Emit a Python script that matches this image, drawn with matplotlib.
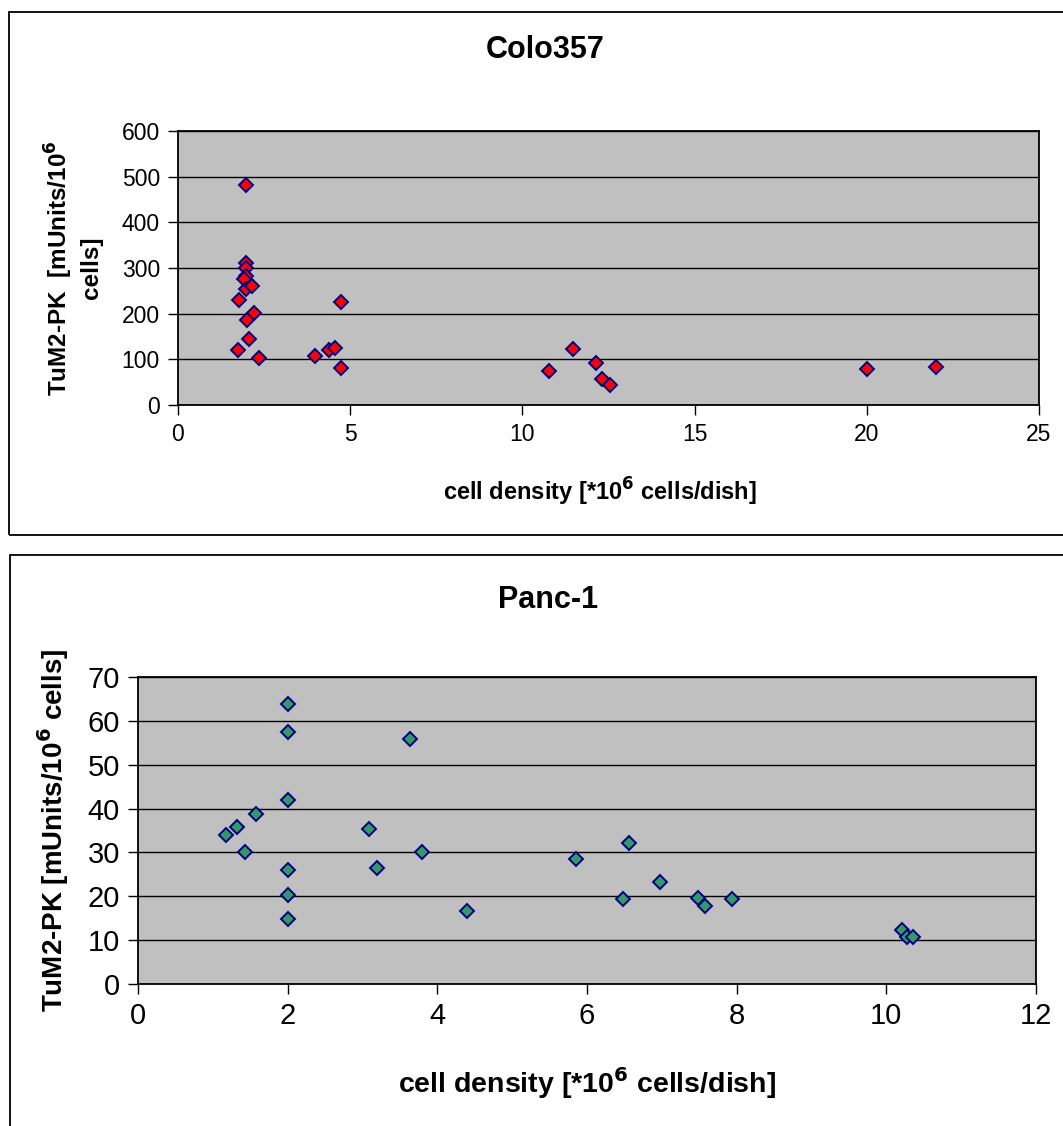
import matplotlib
matplotlib.use("Agg")
import matplotlib.pyplot as plt
from matplotlib.patches import Rectangle

W, H = 1063, 1126

# Colo357: cell density [*10^6 cells/dish] vs TuM2-PK [mUnits/10^6 cells]
colo_x = [1.97, 1.97, 1.97, 1.97, 1.91, 1.97, 2.14, 1.78, 2.20, 2.00,
          2.07, 1.73, 2.35, 3.98, 4.37, 4.55, 4.72, 4.72,
          10.78, 11.46, 12.13, 12.32, 12.54, 20.0, 22.02]
colo_y = [481, 311, 299, 282, 277, 255, 260, 230, 202, 187,
          145, 120, 102, 107, 120, 125, 226, 82,
          75, 122, 92, 56, 43, 79, 84]

# Panc-1
panc_x = [2.0, 2.0, 3.64, 2.0, 1.58, 1.32, 1.17, 1.43, 3.09, 3.80,
          2.0, 3.19, 2.0, 2.0, 4.39,
          5.85, 6.56, 6.98, 6.48, 7.48, 7.58, 7.94, 10.21, 10.28, 10.35]
panc_y = [63.8, 57.5, 55.8, 42.0, 38.8, 35.7, 33.9, 30.0, 35.3, 30.0,
          25.9, 26.4, 20.2, 14.9, 16.7,
          28.5, 32.1, 23.2, 19.3, 19.7, 17.8, 19.3, 12.3, 10.7, 10.8]

colo_xticks = [0, 5, 10, 15, 20, 25]
colo_yticks = [0, 100, 200, 300, 400, 500, 600]
panc_xticks = [0, 2, 4, 6, 8, 10, 12]
panc_yticks = [0, 10, 20, 30, 40, 50, 60, 70]

plt.rcParams["font.family"] = ["Liberation Sans", "DejaVu Sans"]

fig = plt.figure(figsize=(W / 100, H / 100), dpi=100)


def fx(px):
    return px / W


def fy(py):
    return 1 - py / H


def add_px_axes(left, top, right, bottom):
    return fig.add_axes([fx(left), fy(bottom), (right - left) / W, (bottom - top) / H])


# chart-area frames (run past the right/bottom edge like the source)
fig.patches.append(Rectangle((fx(9), fy(535)), 1.2, (535 - 12) / H,
                             transform=fig.transFigure, fill=False,
                             edgecolor="black", linewidth=1.3))
fig.patches.append(Rectangle((fx(10), fy(1200)), 1.2, (1200 - 555) / H,
                             transform=fig.transFigure, fill=False,
                             edgecolor="black", linewidth=1.3))


def style_axes(ax, xticks, yticks, labelsize):
    ax.set_facecolor("#C0C0C0")
    ax.set_xlim(xticks[0], xticks[-1])
    ax.set_ylim(yticks[0], yticks[-1])
    ax.set_xticks(xticks)
    ax.set_yticks(yticks)
    ax.yaxis.grid(True, color="black", linewidth=1.0)
    ax.set_axisbelow(True)
    for side in ["left", "bottom", "top", "right"]:
        ax.spines[side].set_color("black")
        ax.spines[side].set_linewidth(1.3)
    ax.tick_params(direction="out", length=7, width=1.0, labelsize=labelsize,
                   top=False, right=False, pad=6)


# --- Colo357 ---
ax1 = add_px_axes(178, 131, 1039, 405)
style_axes(ax1, colo_xticks, colo_yticks, 16.5)
ax1.plot(colo_x, colo_y, linestyle="none", marker="D", markersize=7,
         markerfacecolor="#FF0000", markeredgecolor="#000080",
         markeredgewidth=1.4, zorder=3, clip_on=False)
fig.text(fx(545), fy(50), "Colo357", ha="center", va="center",
         fontsize=22, fontweight="bold")
fig.text(fx(600), fy(492), r"cell density [*10$^{\mathbf{6}}$ cells/dish]",
         ha="center", va="center", fontsize=17, fontweight="bold")
fig.text(fx(73), fy(268), "TuM2-PK  [mUnits/10$^{\\mathbf{6}}$\ncells]",
         ha="center", va="center", rotation=90, fontsize=17.5,
         fontweight="bold", linespacing=1.25)

# --- Panc-1 ---
ax2 = add_px_axes(138, 677, 1036, 984)
style_axes(ax2, panc_xticks, panc_yticks, 21)
ax2.plot(panc_x, panc_y, linestyle="none", marker="D", markersize=7,
         markerfacecolor="#339966", markeredgecolor="#000080",
         markeredgewidth=1.4, zorder=3, clip_on=False)
fig.text(fx(548), fy(600), "Panc-1", ha="center", va="center",
         fontsize=22, fontweight="bold")
fig.text(fx(587), fy(1083), r"cell density [*10$^{\mathbf{6}}$ cells/dish]",
         ha="center", va="center", fontsize=20.5, fontweight="bold")
fig.text(fx(53), fy(830), r"TuM2-PK [mUnits/10$^{\mathbf{6}}$ cells]",
         ha="center", va="center", rotation=90, fontsize=20,
         fontweight="bold")

fig.savefig("out.png", dpi=100, facecolor="white")
